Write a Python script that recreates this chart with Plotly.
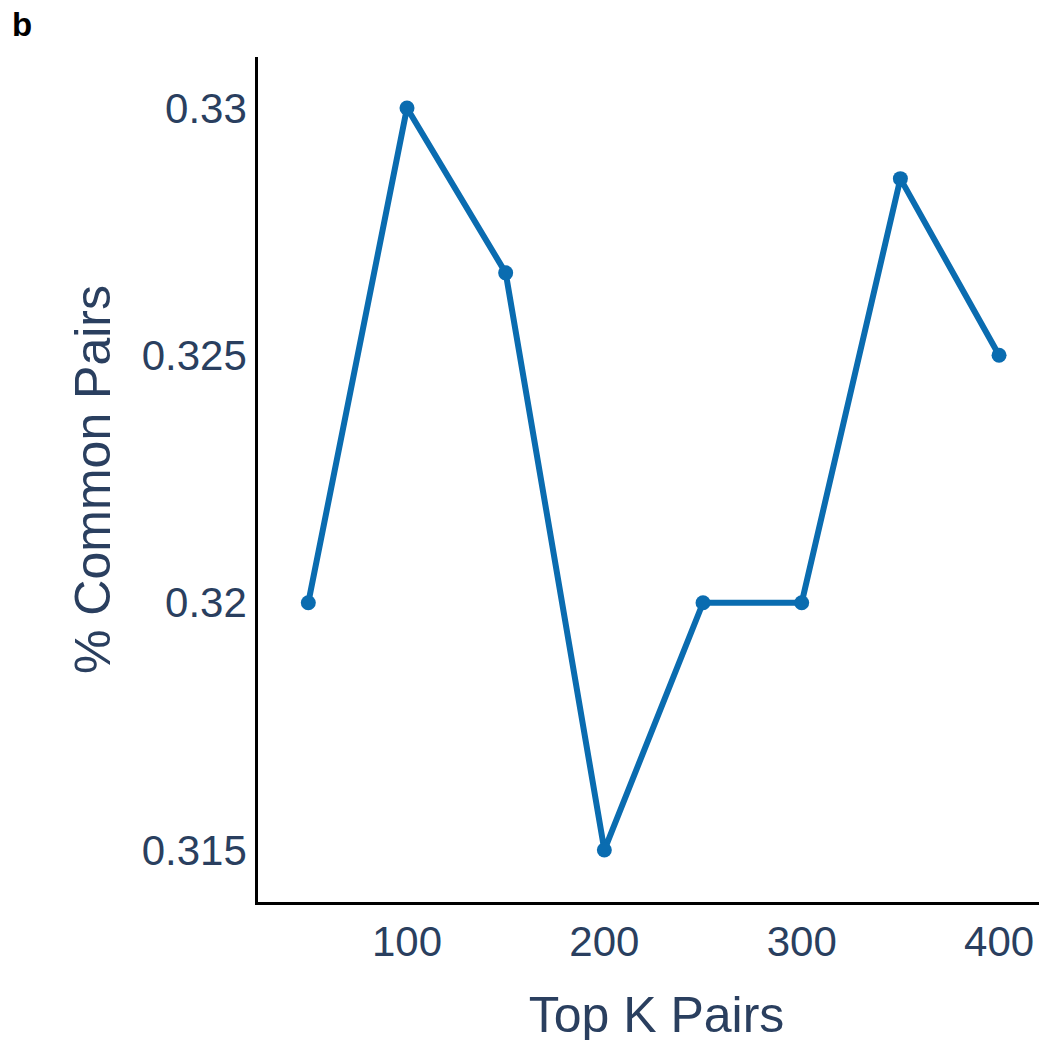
import plotly.graph_objects as go

top_k = [50, 100, 150, 200, 250, 300, 350, 400]
common_pairs = [0.32, 0.33, 0.326667, 0.315, 0.32, 0.32, 0.328571, 0.325]
x_ticks = [100, 200, 300, 400]
y_ticks = [0.315, 0.32, 0.325, 0.33]
y_tick_text = ["0.315", "0.32", "0.325", "0.33"]

fig = go.Figure()
fig.add_trace(go.Scatter(
    x=top_k, y=common_pairs, mode="lines+markers",
    line=dict(color="#0A6CB0", width=6),
    marker=dict(color="#0A6CB0", size=15),
    showlegend=False,
))

font_family = "Liberation Sans, Arial, sans-serif"
fig.update_layout(
    width=1047, height=1040,
    paper_bgcolor="white", plot_bgcolor="white",
    margin=dict(l=250, r=0, t=49, b=146),
    font=dict(family=font_family, color="#2a3f5f"),
    xaxis=dict(
        title=dict(text="Top K Pairs", font=dict(size=50, color="#2a3f5f"), standoff=33),
        range=[24.5, 428.35], tickvals=x_ticks,
        tickfont=dict(size=42, color="#2a3f5f"),
        showgrid=False, zeroline=False,
        showline=True, linecolor="black", linewidth=2.5,
        ticks="", ticklabelstandoff=1,
    ),
    yaxis=dict(
        title=dict(text="% Common Pairs", font=dict(size=50, color="#2a3f5f"), standoff=16),
        range=[0.31395, 0.33103], tickvals=y_ticks, ticktext=y_tick_text,
        tickfont=dict(size=42, color="#2a3f5f"),
        showgrid=False, zeroline=False,
        showline=True, linecolor="black", linewidth=2.5,
        ticks="", ticklabelstandoff=0,
    ),
    annotations=[dict(
        text="<b>b</b>", xref="paper", yref="paper",
        x=-0.3117, y=1.0624, xanchor="left", yanchor="top",
        showarrow=False, font=dict(size=33, color="black", family=font_family),
    )],
)

fig.write_html("out.html")
